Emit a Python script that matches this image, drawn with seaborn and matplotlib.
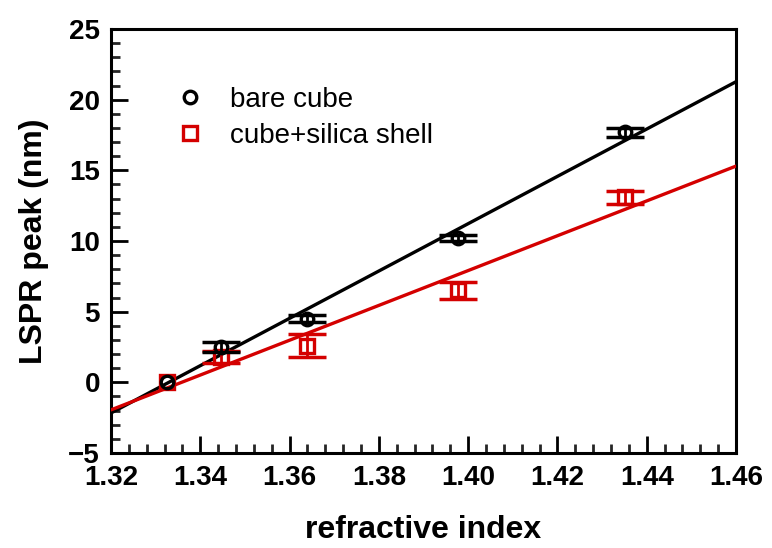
import matplotlib
matplotlib.use("Agg")
import matplotlib.pyplot as plt
import seaborn as sns
import numpy as np
import pandas as pd
from matplotlib.ticker import MultipleLocator

# ---- data ----
n_bare = [1.3325, 1.3446, 1.3639, 1.3977, 1.4351]
peak_bare = [0.0, 2.5, 4.5, 10.2, 17.7]
err_bare = [0.0, 0.35, 0.25, 0.22, 0.32]

n_shell = [1.3325, 1.3446, 1.3639, 1.3977, 1.4351]
peak_shell = [0.0, 1.8, 2.6, 6.5, 13.1]
err_shell = [0.0, 0.4, 0.8, 0.6, 0.46]

fit_x = [1.32, 1.46]
fit_bare = [-2.17, 21.27]
fit_shell = [-1.95, 15.3]

xticks = [1.32, 1.34, 1.36, 1.38, 1.40, 1.42, 1.44, 1.46]
yticks = [-5, 0, 5, 10, 15, 20, 25]

sns.set_theme(style="white")
plt.rcParams['font.family'] = ['Liberation Sans', 'DejaVu Sans']
plt.rcParams['text.color'] = 'black'
plt.rcParams['axes.labelcolor'] = 'black'

fig = plt.figure(figsize=(7.72, 5.48), dpi=100)
ax = fig.add_axes([0.1438, 0.1734, 0.8096, 0.7737])

black = "#000000"
red = "#d40000"

fits = pd.DataFrame({"x": fit_x * 2, "y": fit_bare + fit_shell,
                     "s": ["bare"] * 2 + ["shell"] * 2})
sns.lineplot(data=fits[fits.s == "bare"], x="x", y="y", color=black, lw=2.4, ax=ax, zorder=2)
sns.lineplot(data=fits[fits.s == "shell"], x="x", y="y", color=red, lw=2.4, ax=ax, zorder=3)

# error bars only where an error was measured
m_s = [e > 0 for e in err_shell]
m_b = [e > 0 for e in err_bare]
ax.errorbar([x for x, k in zip(n_shell, m_s) if k], [y for y, k in zip(peak_shell, m_s) if k],
            yerr=[e for e, k in zip(err_shell, m_s) if k], fmt="none", ecolor=red,
            elinewidth=2.0, capsize=13.5, capthick=2.5, zorder=4)
ax.errorbar([x for x, k in zip(n_bare, m_b) if k], [y for y, k in zip(peak_bare, m_b) if k],
            yerr=[e for e, k in zip(err_bare, m_b) if k], fmt="none", ecolor=black,
            elinewidth=2.0, capsize=13.5, capthick=2.5, zorder=5)

ax.plot(n_shell, peak_shell, ls="none", marker="s", ms=9.5, mfc="none",
        mec=red, mew=2.4, zorder=4, label="cube+silica shell")
ax.plot(n_bare, peak_bare, ls="none", marker="o", ms=9, mfc="none",
        mec=black, mew=2.4, zorder=5, label="bare cube")

ax.set_xlim(1.32, 1.46)
ax.set_ylim(-5, 25)
ax.set_xticks(xticks)
ax.set_xticklabels([f"{t:.2f}" for t in xticks])
ax.set_yticks(yticks)
ax.set_yticklabels(["\u22125" if t < 0 else str(t) for t in yticks])
ax.xaxis.set_minor_locator(MultipleLocator(0.004))
ax.yaxis.set_minor_locator(MultipleLocator(1))

for sp in ax.spines.values():
    sp.set_linewidth(2.2)
    sp.set_color("black")

ax.tick_params(axis="both", which="major", direction="in", length=12, width=2.0,
               labelsize=20, colors="black", top=False, right=False,
               bottom=True, left=True)
ax.tick_params(axis="both", which="minor", direction="in", length=6.5, width=2.0,
               top=False, right=False, bottom=True, left=True)
ax.tick_params(axis="y", which="major", pad=8)
ax.tick_params(axis="x", which="major", pad=9)
for lbl in ax.get_xticklabels() + ax.get_yticklabels():
    lbl.set_fontweight("bold")

ax.set_xlabel("refractive index", fontsize=23, fontweight="bold", labelpad=17)
ax.set_ylabel("LSPR peak (nm)", fontsize=23, fontweight="bold", labelpad=14)

handles, labels = ax.get_legend_handles_labels()
order = [1, 0]
ax.legend([handles[i] for i in order], [labels[i] for i in order],
          loc="upper left", bbox_to_anchor=(0.088, 0.89), frameon=False,
          fontsize=20, handletextpad=1.0, labelspacing=0.36,
          handlelength=0.9, borderaxespad=0, labelcolor="black")

ax.grid(False)
fig.savefig("out.png", dpi=100)
